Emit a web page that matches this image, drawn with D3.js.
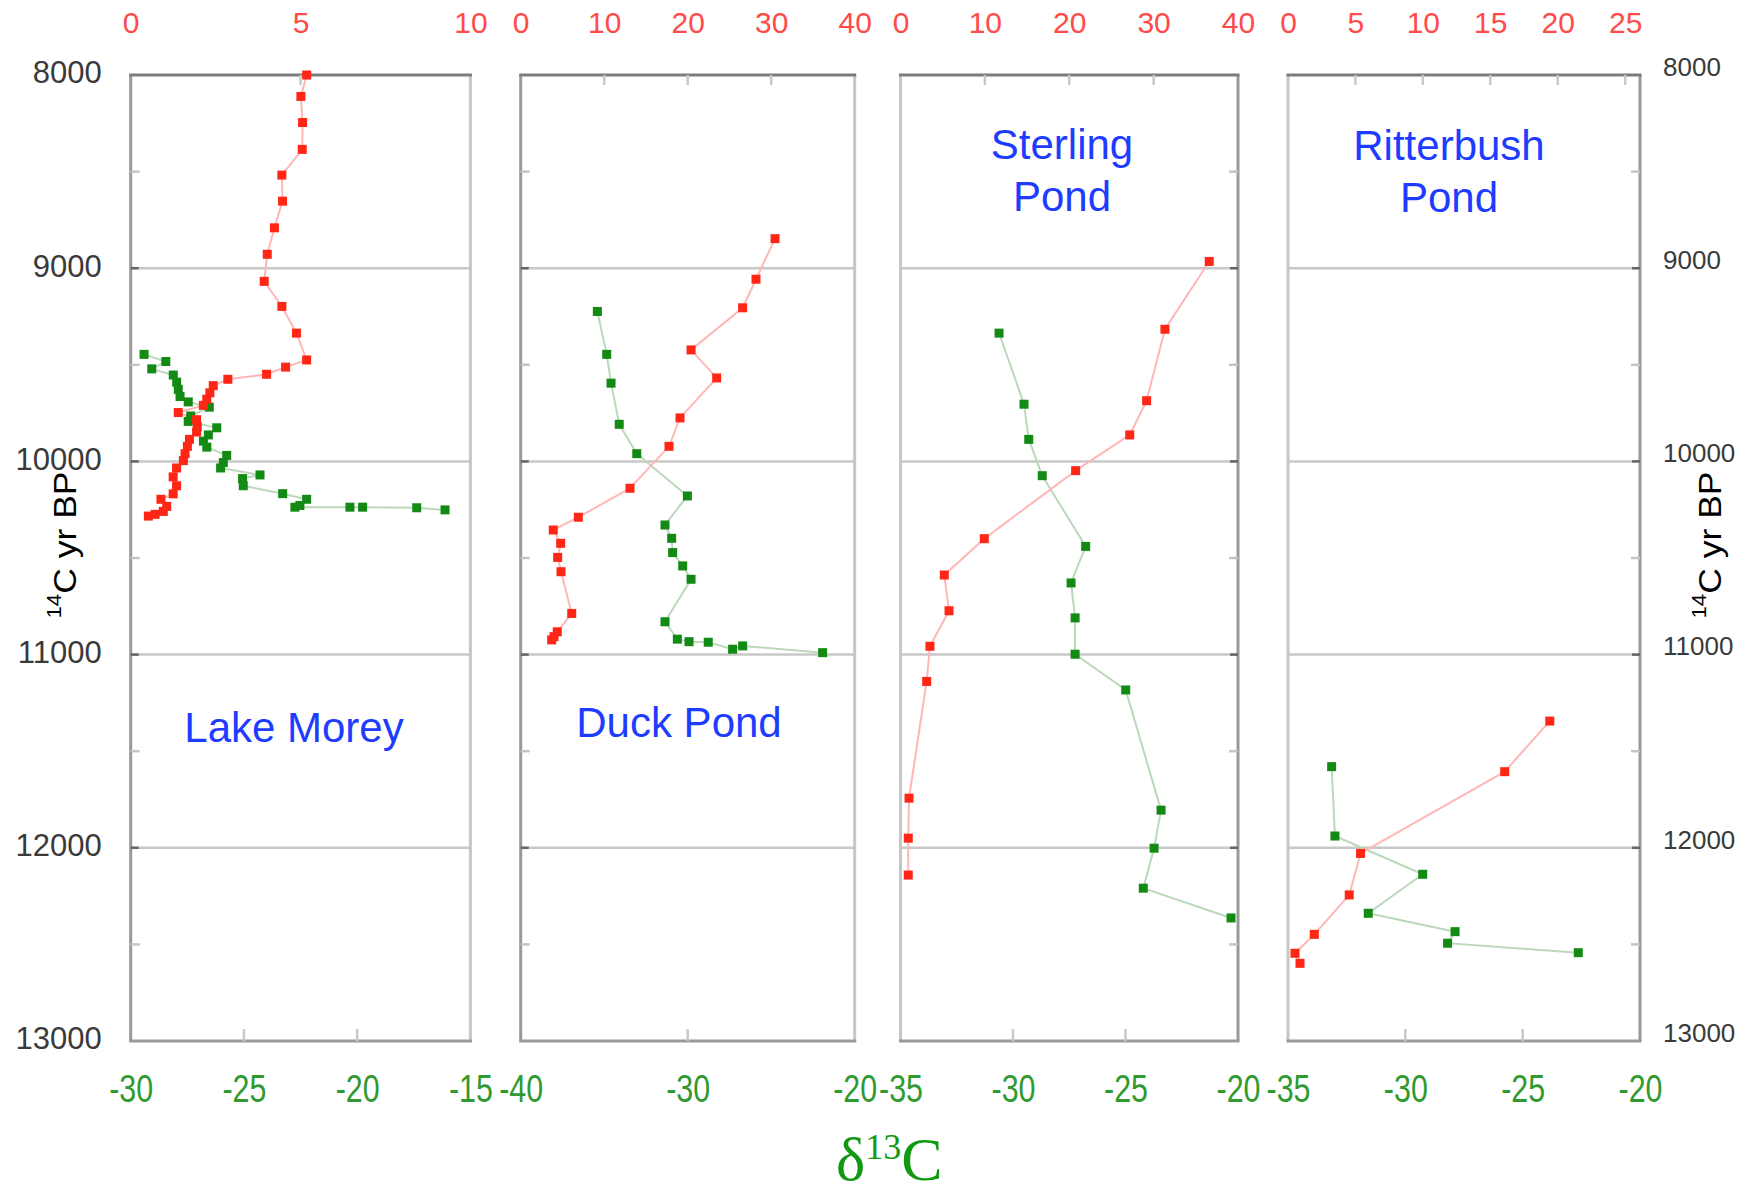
<!DOCTYPE html>
<html>
<head>
<meta charset="utf-8">
<script src="https://cdn.jsdelivr.net/npm/d3@7"></script>
<style>
  html, body { margin: 0; padding: 0; background: #fff; }
  svg { display: block; font-family: "Liberation Sans", Arial, Helvetica, sans-serif; }
</style>
</head>
<body>
<div id="chart"></div>
<script>
// age axis (14C yr BP)
const ages = [8000, 9000, 10000, 11000, 12000, 13000];
const minorAges = [8500, 9500, 10500, 11500, 12500];

const siteNames = [["Lake Morey"], ["Duck Pond"], ["Sterling", "Pond"], ["Ritterbush", "Pond"]];

// red axis on top, green d13C axis on the bottom
const topDomains = [[0, 10], [0, 40], [0, 40], [0, 26.1]];
const topTicks = [[0, 5, 10], [0, 10, 20, 30, 40], [0, 10, 20, 30, 40], [0, 5, 10, 15, 20, 25]];
const bottomDomains = [[-30, -15], [-40, -20], [-35, -20], [-35, -20]];
const bottomTicks = [[-30, -25, -20, -15], [-40, -30, -20], [-35, -30, -25, -20], [-35, -30, -25, -20]];

// [value, age]
const lakeMoreyTop = [[5.18,8000],[5.01,8111],[5.06,8246],[5.05,8385],[4.45,8518],[4.47,8653],[4.23,8791],[4.02,8928],[3.93,9068],[4.45,9198],[4.88,9336],[5.18,9475],[4.56,9512],[4.0,9549],[2.86,9575],[2.43,9608],[2.33,9645],[2.24,9678],[2.14,9710],[1.40,9747],[1.94,9784],[1.96,9821],[1.94,9848],[1.73,9886],[1.67,9922],[1.60,9960],[1.55,9996],[1.35,10034],[1.25,10080],[1.35,10126],[1.25,10168],[0.89,10196],[1.06,10233],[0.96,10259],[0.72,10274],[0.52,10283]];
const lakeMoreyD13C = [[-29.41,9446],[-28.45,9483],[-29.07,9521],[-28.12,9553],[-27.97,9590],[-27.90,9627],[-27.82,9664],[-27.46,9692],[-26.53,9719],[-27.35,9765],[-27.46,9793],[-26.20,9826],[-26.57,9863],[-26.79,9895],[-26.64,9926],[-25.76,9969],[-25.91,10006],[-26.03,10034],[-24.29,10070],[-25.06,10089],[-25.03,10126],[-23.29,10167],[-22.23,10196],[-22.53,10228],[-22.75,10237],[-20.32,10237],[-19.76,10237],[-17.37,10240],[-16.12,10251]];

const duckPondTop = [[30.46,8847],[28.18,9057],[26.58,9205],[20.40,9423],[23.47,9568],[19.08,9775],[17.76,9922],[13.09,10139],[6.90,10289],[3.90,10355],[4.79,10424],[4.43,10497],[4.83,10571],[6.11,10787],[4.38,10882],[3.99,10907],[3.71,10924]];
const duckPondD13C = [[-35.41,9224],[-34.85,9446],[-34.59,9595],[-34.10,9808],[-33.05,9960],[-30.02,10179],[-31.36,10329],[-30.96,10398],[-30.90,10472],[-30.30,10541],[-29.80,10610],[-31.36,10830],[-30.62,10920],[-29.92,10933],[-28.77,10936],[-27.31,10972],[-26.71,10955],[-21.92,10990]];

const sterlingTop = [[36.59,8965],[31.34,9316],[29.17,9686],[27.17,9863],[20.76,10048],[9.93,10400],[5.19,10588],[5.75,10773],[3.49,10957],[3.10,11139],[1.01,11743],[0.92,11950],[0.92,12141]];
const sterlingD13C = [[-30.62,9336],[-29.51,9704],[-29.30,9886],[-28.70,10074],[-26.77,10440],[-27.42,10629],[-27.24,10810],[-27.24,10998],[-24.99,11183],[-23.42,11805],[-23.73,12002],[-24.21,12209],[-20.31,12363]];

const ritterbushTop = [[19.41,11344],[16.07,11606],[5.38,12029],[4.54,12244],[1.95,12448],[0.52,12546],[0.89,12598]];
const ritterbushD13C = [[-33.14,11580],[-33.0,11939],[-29.26,12137],[-31.58,12339],[-27.88,12434],[-28.20,12494],[-22.63,12543]];

const topSeries = [lakeMoreyTop, duckPondTop, sterlingTop, ritterbushTop];
const d13cSeries = [lakeMoreyD13C, duckPondD13C, sterlingD13C, ritterbushD13C];

const width = 1752;
const height = 1195;

const PANEL_LEFT = [130.7, 520.7, 900.5, 1288];
const PANEL_RIGHT = [470.4, 854.7, 1238, 1640];
const TITLE_X = [294, 679, 1062, 1449];
const TITLE_Y = [742, 737, 159, 160];

const RED = "#ff2616";
const RED_LINE = "#ffb6b6";
const GREEN = "#138a13";
const GREEN_LINE = "#bcd8bc";

// plain hyphen instead of d3's unicode minus
const plain = d => String(d);

const svg = d3.select("#chart")
    .append("svg")
    .attr("width", width)
    .attr("height", height);

const y = d3.scaleLinear().domain([8000, 13000]).range([75, 1041]);

siteNames.forEach((name, i) => {
  const x0 = PANEL_LEFT[i], x1 = PANEL_RIGHT[i];
  const axisLeftSide = i < 2;
  const xTop = d3.scaleLinear().domain(topDomains[i]).range([x0, x1]);
  const xBot = d3.scaleLinear().domain(bottomDomains[i]).range([x0, x1]);
  const g = svg.append("g");

  // gridlines
  g.selectAll(".grid")
    .data(ages.slice(1, -1))
    .join("line")
    .attr("x1", x0).attr("x2", x1)
    .attr("y1", d => y(d)).attr("y2", d => y(d))
    .attr("stroke", "#c8c8c8")
    .attr("stroke-width", 2.5);

  // side borders
  const axisX = axisLeftSide ? x0 : x1;
  const otherX = axisLeftSide ? x1 : x0;
  g.append("line")
    .attr("x1", otherX).attr("x2", otherX).attr("y1", y(8000)).attr("y2", y(13000))
    .attr("stroke", "#c6c6c6").attr("stroke-width", 3);
  g.append("line")
    .attr("x1", axisX).attr("x2", axisX).attr("y1", y(8000)).attr("y2", y(13000))
    .attr("stroke", "#999").attr("stroke-width", 3);

  // age ticks on the axis side
  const dir = axisLeftSide ? 1 : -1;
  g.selectAll(".minor")
    .data(minorAges)
    .join("line")
    .attr("x1", axisX).attr("x2", axisX + dir * 9)
    .attr("y1", d => y(d)).attr("y2", d => y(d))
    .attr("stroke", "#c4c4c4").attr("stroke-width", 2.5);
  g.selectAll(".major")
    .data(ages.slice(1, -1))
    .join("line")
    .attr("x1", axisX).attr("x2", axisX + dir * 8)
    .attr("y1", d => y(d)).attr("y2", d => y(d))
    .attr("stroke", "#666").attr("stroke-width", 2.5);

  // top and bottom borders
  g.append("line")
    .attr("x1", x0 - 1.5).attr("x2", x1 + 1.5).attr("y1", y(8000)).attr("y2", y(8000))
    .attr("stroke", "#7c7c7c").attr("stroke-width", 3);
  g.append("line")
    .attr("x1", x0 - 1.5).attr("x2", x1 + 1.5).attr("y1", y(13000)).attr("y2", y(13000))
    .attr("stroke", "#9a9a9a").attr("stroke-width", 3);

  // inner tick marks
  const innerTop = topTicks[i].filter(v => v > topDomains[i][0] && v < topDomains[i][1]);
  g.selectAll(".ttick")
    .data(innerTop)
    .join("line")
    .attr("x1", d => xTop(d)).attr("x2", d => xTop(d))
    .attr("y1", y(8000)).attr("y2", y(8000) + 10)
    .attr("stroke", "#c8c8c8").attr("stroke-width", 2.5);
  const innerBot = bottomTicks[i].filter(v => v > bottomDomains[i][0] && v < bottomDomains[i][1]);
  g.selectAll(".btick")
    .data(innerBot)
    .join("line")
    .attr("x1", d => xBot(d)).attr("x2", d => xBot(d))
    .attr("y1", y(13000)).attr("y2", y(13000) - 12)
    .attr("stroke", "#c8c8c8").attr("stroke-width", 2.5);

  // top axis labels (red)
  const topAxis = g.append("g")
    .attr("transform", `translate(0,${y(8000)})`)
    .call(d3.axisTop(xTop).tickValues(topTicks[i]).tickSize(0).tickPadding(42).tickFormat(plain));
  topAxis.select(".domain").remove();
  topAxis.selectAll("text")
    .attr("fill", "#ff4a4a")
    .attr("font-size", 30)
    .attr("font-family", "Liberation Sans, Arial, sans-serif");

  // bottom axis labels (green, narrow)
  const botAxis = g.append("g")
    .attr("transform", `translate(0,${y(13000)})`)
    .call(d3.axisBottom(xBot).tickValues(bottomTicks[i]).tickSize(0).tickPadding(34).tickFormat(plain));
  botAxis.select(".domain").remove();
  botAxis.selectAll("text")
    .attr("fill", "#2f9a2f")
    .attr("font-size", 38)
    .attr("font-family", "Liberation Sans, Arial, sans-serif")
    .attr("transform", "scale(0.8,1)");

  // series
  const lineTop = d3.line().x(d => xTop(d[0])).y(d => y(d[1]));
  const lineBot = d3.line().x(d => xBot(d[0])).y(d => y(d[1]));

  g.append("path").datum(d13cSeries[i])
    .attr("d", lineBot).attr("fill", "none")
    .attr("stroke", GREEN_LINE).attr("stroke-width", 2);
  g.append("path").datum(topSeries[i])
    .attr("d", lineTop).attr("fill", "none")
    .attr("stroke", RED_LINE).attr("stroke-width", 2);

  g.selectAll(".gpt")
    .data(d13cSeries[i])
    .join("rect")
    .attr("x", d => xBot(d[0]) - 4.5).attr("y", d => y(d[1]) - 4.5)
    .attr("width", 9).attr("height", 9)
    .attr("fill", GREEN);
  g.selectAll(".rpt")
    .data(topSeries[i])
    .join("rect")
    .attr("x", d => xTop(d[0]) - 4.5).attr("y", d => y(d[1]) - 4.5)
    .attr("width", 9).attr("height", 9)
    .attr("fill", RED);

  // site name
  const title = g.append("text")
    .attr("x", TITLE_X[i])
    .attr("y", TITLE_Y[i])
    .attr("text-anchor", "middle")
    .attr("font-size", 42)
    .attr("fill", "#1e3cff");
  name.forEach((line, k) => {
    title.append("tspan")
      .attr("x", TITLE_X[i])
      .attr("dy", k === 0 ? 0 : 52)
      .text(line);
  });
});

// age axes
const leftAxis = svg.append("g")
  .attr("transform", `translate(${PANEL_LEFT[0]},0)`)
  .call(d3.axisLeft(y).tickValues(ages).tickSize(0).tickPadding(29).tickFormat(plain));
leftAxis.select(".domain").remove();
leftAxis.selectAll("text")
  .attr("fill", "#3a3a3a")
  .attr("font-size", 31)
  .attr("y", -2)
  .attr("font-family", "Liberation Sans, Arial, sans-serif");

const rightAxis = svg.append("g")
  .attr("transform", `translate(${PANEL_RIGHT[3]},0)`)
  .call(d3.axisRight(y).tickValues(ages).tickSize(0).tickPadding(23).tickFormat(plain));
rightAxis.select(".domain").remove();
rightAxis.selectAll("text")
  .attr("fill", "#3a3a3a")
  .attr("font-size", 26)
  .attr("y", -8)
  .attr("font-family", "Liberation Sans, Arial, sans-serif");

// rotated age labels
[65, 1710].forEach(cx => {
  const t = svg.append("text")
    .attr("transform", `translate(${cx},545) rotate(-90)`)
    .attr("text-anchor", "middle")
    .attr("dominant-baseline", "central")
    .attr("font-size", 32)
    .attr("fill", "#000")
    .attr("textLength", 147)
    .attr("lengthAdjust", "spacingAndGlyphs");
  t.append("tspan").attr("font-size", 20).attr("baseline-shift", "super").text("14");
  t.append("tspan").text("C yr BP");
});

// d13C title
const dTitle = svg.append("text")
  .attr("x", 836)
  .attr("y", 1180)
  .attr("font-family", "Liberation Serif, Times New Roman, serif")
  .attr("font-size", 62)
  .attr("fill", "#119911");
dTitle.append("tspan").text("δ");
dTitle.append("tspan").attr("font-size", 36).attr("dy", -21).text("13");
dTitle.append("tspan").attr("dy", 21).text("C");
</script>
</body>
</html>
